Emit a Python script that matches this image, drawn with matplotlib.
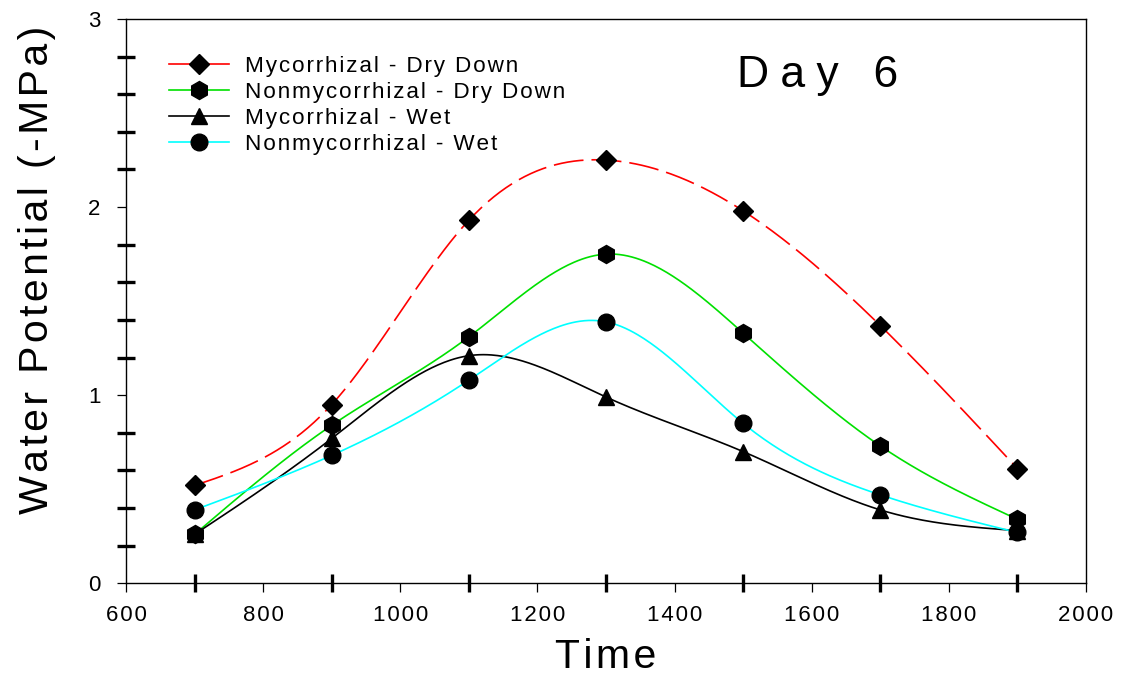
import matplotlib
import numpy as np

matplotlib.use("Agg")
import matplotlib.pyplot as plt
from matplotlib.ticker import FixedLocator

plt.rcParams["font.family"] = ["Liberation Sans", "DejaVu Sans"]

# data
times = [700, 900, 1100, 1300, 1500, 1700, 1900]
myco_dry = [0.52, 0.95, 1.93, 2.25, 1.98, 1.37, 0.61]
nonmyco_dry = [0.26, 0.84, 1.31, 1.75, 1.33, 0.73, 0.34]
myco_wet = [0.26, 0.77, 1.21, 0.99, 0.70, 0.39, 0.28]
nonmyco_wet = [0.39, 0.68, 1.08, 1.39, 0.85, 0.47, 0.27]
labels = ["Mycorrhizal - Dry Down", "Nonmycorrhizal - Dry Down",
          "Mycorrhizal - Wet", "Nonmycorrhizal - Wet"]

HS = "\u200a"   # hair space, to mimic the wide letter spacing


def spaced(s, n=1):
    return (HS * n).join(s)


def natural_spline(x, y, num=400):
    """Smooth curve through the points (drawing only, markers stay on the data)."""
    x, y = np.asarray(x, float), np.asarray(y, float)
    n = len(x)
    h = np.diff(x)
    A = np.zeros((n, n)); b = np.zeros(n)
    A[0, 0] = A[-1, -1] = 1.0
    for i in range(1, n - 1):
        A[i, i - 1], A[i, i], A[i, i + 1] = h[i - 1], 2 * (h[i - 1] + h[i]), h[i]
        b[i] = 3 * ((y[i + 1] - y[i]) / h[i] - (y[i] - y[i - 1]) / h[i - 1])
    c = np.linalg.solve(A, b)
    xs = np.linspace(x[0], x[-1], num)
    k = np.clip(np.searchsorted(x, xs) - 1, 0, n - 2)
    dx = xs - x[k]
    bk = (y[k + 1] - y[k]) / h[k] - h[k] * (2 * c[k] + c[k + 1]) / 3
    dk = (c[k + 1] - c[k]) / (3 * h[k])
    return xs, y[k] + bk * dx + c[k] * dx ** 2 + dk * dx ** 3


fig = plt.figure(figsize=(11.26, 6.81), dpi=100)
ax = fig.add_axes([0.1119, 0.1435, 0.8526, 0.8286])

series = [
    (myco_dry, "#ff0000", "D", 10, (18, 4.8)),
    (nonmyco_dry, "#00e000", "h", 13, None),
    (myco_wet, "#000000", "^", 12, None),
    (nonmyco_wet, "#00ffff", "o", 12, None),
]
handles = []
for (vals, col, mk, ms, dash), lab in zip(series, labels):
    xs, ys = natural_spline(times, vals)
    ln, = ax.plot(xs, ys, color=col, lw=1.2)
    if dash:
        ln.set_dashes(dash)
    ax.plot(times, vals, ls="none", marker=mk, ms=ms, color="black", zorder=3)
    h, = ax.plot([], [], color=col, lw=1.2, marker=mk, ms=ms, mfc="black", mec="black")
    handles.append(h)

ax.set_xlim(600, 2000)
ax.set_ylim(0, 3)
ax.xaxis.set_major_locator(FixedLocator(np.arange(600, 2001, 200)))
ax.xaxis.set_minor_locator(FixedLocator(np.arange(700, 2000, 200)))
ax.yaxis.set_major_locator(FixedLocator([0, 1, 2, 3]))
ax.yaxis.set_minor_locator(FixedLocator(np.arange(0.2, 3.0, 0.2)))
ax.set_yticklabels(["0", "1", "2", "3"])
ax.set_xticklabels([spaced(str(v)) for v in range(600, 2001, 200)])

ax.tick_params(axis="both", which="major", direction="out", length=6.5, width=0.9,
               labelsize=16)
ax.tick_params(axis="x", which="major", pad=9)
ax.tick_params(axis="y", which="major", pad=12)
ax.tick_params(axis="both", which="minor", direction="inout", length=13, width=2.4)
for sp in ax.spines.values():
    sp.set_linewidth(1.0)

ax.set_xlabel(spaced("Time"), fontsize=29.5, labelpad=9)
ax.set_ylabel(spaced("Water Potential (-MPa)"), fontsize=29.5, ha="center", va="center")
ax.yaxis.set_label_coords(-0.093, 0.555)

ax.text(0.72, 0.8795, spaced("Day 6", 3), transform=ax.transAxes, fontsize=32,
        ha="center", va="baseline")

leg = ax.legend(handles, [spaced(s) for s in labels], loc="upper left",
                bbox_to_anchor=(0.035, 0.95), frameon=False, fontsize=16.2,
                handlelength=2.7, handletextpad=0.7, labelspacing=0.22,
                borderaxespad=0)

fig.savefig("out.png", dpi=100)
